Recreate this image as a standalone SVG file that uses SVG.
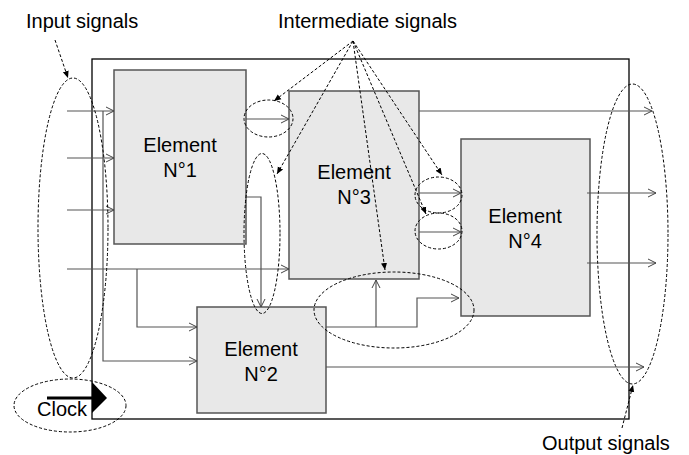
<svg xmlns="http://www.w3.org/2000/svg" width="689" height="455" viewBox="0 0 689 455">
<style>
.el{fill:#e8e8e8;stroke:#555;stroke-width:1.5}
.frame{fill:#fff;stroke:#000;stroke-width:1.3}
.con{fill:none;stroke:#555;stroke-width:1.2}
.dash{fill:none;stroke:#000;stroke-width:1;stroke-dasharray:3,2}
text{font-family:"Liberation Sans",Arial,sans-serif;font-size:20px;fill:#000}
.c{text-anchor:middle}
</style>
<defs>
<marker id="open" markerUnits="userSpaceOnUse" markerWidth="10" markerHeight="10" refX="9" refY="5" orient="auto">
<path d="M1,1 L9,5 L1,9" fill="none" stroke="#444" stroke-width="1"/>
</marker>
<marker id="solid" markerUnits="userSpaceOnUse" markerWidth="8" markerHeight="8" refX="7" refY="4" orient="auto">
<path d="M0,1 L7,4 L0,7 Z" fill="#000"/>
</marker>
</defs>
<rect class="frame" x="92" y="59" width="537" height="360"/>
<g id="e1"><rect class="el" x="114" y="70" width="132" height="174"/><text class="c" x="180" y="152">Element</text><text class="c" x="180" y="177">N°1</text></g>
<g id="e3"><rect class="el" x="289" y="91" width="130" height="188"/><text class="c" x="354" y="179">Element</text><text class="c" x="354" y="204">N°3</text></g>
<g id="e4"><rect class="el" x="461" y="139" width="129" height="177"/><text class="c" x="525" y="223">Element</text><text class="c" x="525" y="248">N°4</text></g>
<g id="e2"><rect class="el" x="197" y="307" width="129" height="106"/><text class="c" x="261" y="356">Element</text><text class="c" x="261" y="381">N°2</text></g>
<g id="connectors">
<path class="con" marker-end="url(#open)" d="M67,111 H114"/>
<path class="con" marker-end="url(#open)" d="M103,111 V361 H197"/>
<path class="con" marker-end="url(#open)" d="M67,158 H114"/>
<path class="con" marker-end="url(#open)" d="M67,210 H114"/>
<path class="con" marker-end="url(#open)" d="M67,269 H289"/>
<path class="con" marker-end="url(#open)" d="M137,269 V327 H197"/>
<path class="con" marker-end="url(#open)" d="M246,119 H289"/>
<path class="con" marker-end="url(#open)" d="M246,197 H261 V307"/>
<path class="con" marker-end="url(#open)" d="M419,111 H652"/>
<path class="con" marker-end="url(#open)" d="M419,193 H461"/>
<path class="con" marker-end="url(#open)" d="M419,232 H461"/>
<path class="con" marker-end="url(#open)" d="M587,193 H656"/>
<path class="con" marker-end="url(#open)" d="M587,263 H656"/>
<path class="con" marker-end="url(#open)" d="M326,367 H644"/>
<path class="con" marker-end="url(#open)" d="M326,327 H417 V298 H459"/>
<path class="con" marker-end="url(#open)" d="M376,327 V280"/>
</g>
<g id="clock">
<line x1="47" y1="398" x2="93" y2="398" stroke="#000" stroke-width="3"/>
<path d="M92,382 L107,398 L92,413 Z" fill="#000"/>
<text x="37" y="416">Clock</text>
</g>
<g id="annotations">
<ellipse class="dash" cx="73" cy="228" rx="35" ry="150"/>
<ellipse class="dash" cx="70" cy="405.5" rx="56" ry="26.5"/>
<ellipse class="dash" cx="268.5" cy="118.5" rx="24.5" ry="18.5"/>
<ellipse class="dash" cx="262" cy="233.5" rx="18" ry="80"/>
<ellipse class="dash" cx="438.5" cy="195" rx="23.5" ry="18"/>
<ellipse class="dash" cx="438.5" cy="231" rx="23.5" ry="18"/>
<ellipse class="dash" cx="394" cy="310" rx="80" ry="38"/>
<ellipse class="dash" cx="632.5" cy="234" rx="35.5" ry="150"/>
<path class="dash" marker-end="url(#solid)" d="M55,40 L68,78"/>
<path class="dash" marker-end="url(#solid)" d="M353,41 L274,101"/>
<path class="dash" marker-end="url(#solid)" d="M353,41 L277,174"/>
<path class="dash" marker-end="url(#solid)" d="M353,41 L442,175"/>
<path class="dash" marker-end="url(#solid)" d="M353,41 L426,214"/>
<path class="dash" marker-end="url(#solid)" d="M353,41 L385,270"/>
<path class="dash" marker-end="url(#solid)" d="M622,428 L633,385"/>
</g>
<g id="labels">
<text x="26" y="28">Input signals</text>
<text x="278" y="28">Intermediate signals</text>
<text x="542" y="450">Output signals</text>
</g>
</svg>
